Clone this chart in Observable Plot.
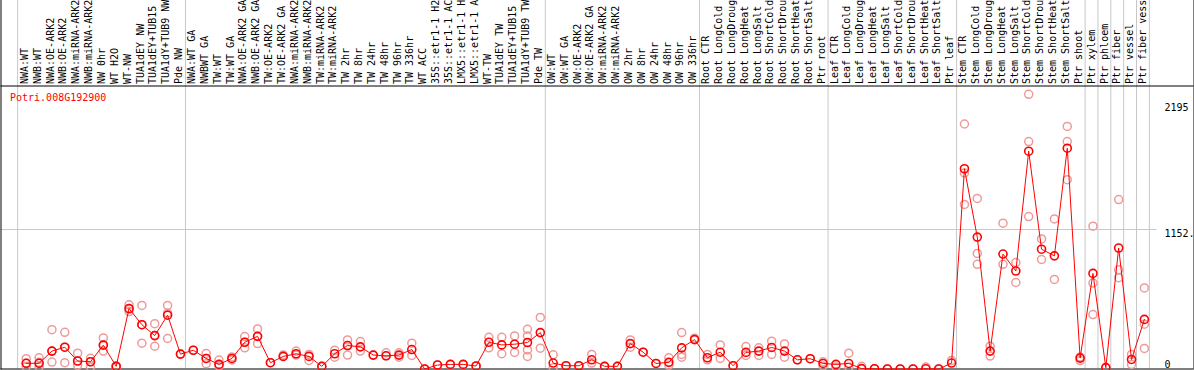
<!DOCTYPE html>
<html><head><meta charset="utf-8">
<script src="https://cdn.jsdelivr.net/npm/d3@7"></script>
<script src="https://cdn.jsdelivr.net/npm/@observablehq/plot@0.6"></script>
<style>body{margin:0;background:#fff;overflow:hidden}</style>
</head><body><div id="chart"></div>
<script>
const labels = [
"NWA:WT","NWB:WT","NWA:OE-ARK2","NWB:OE-ARK2","NWA:miRNA-ARK2","NWB:miRNA-ARK2","NW 0hr","WT H2O","WT-NW","TUA1dEY NW","TUA1dEY+TUB15","TUA1dY+TUB9 NW","Pde NW",
"NWA:WT GA","NWBWT GA","TW:WT","TW:WT GA","NWA:OE-ARK2 GA","NWB:OE-ARK2 GA","TW:OE-ARK2","TW:OE-ARK2 GA","NWA:miRNA-ARK2","NWB:miRNA-ARK2","TW:miRNA-ARK2","TW:miRNA-ARK2","TW 2hr","TW 8hr","TW 24hr","TW 48hr","TW 96hr","TW 336hr","WT ACC","35S::etr1-1 H2","35S::etr1-1 AC","LMX5::etr1-1 H","LMX5::etr1-1 A","WT-TW","TUA1dEY TW","TUA1dEY+TUB15","TUA1dY+TUB9 TW","Pde TW",
"OW:WT","OW:WT GA","OW:OE-ARK2","OW:OE-ARK2 GA","OW:miRNA-ARK2","OW:miRNA-ARK2","OW 2hr","OW 8hr","OW 24hr","OW 48hr","OW 96hr","OW 336hr",
"Root CTR","Root LongCold","Root LongDroug","Root LongHeat","Root LongSalt","Root ShortCold","Root ShortDrou","Root ShortHeat","Root ShortSalt","Ptr root",
"Leaf CTR","Leaf LongCold","Leaf LongDroug","Leaf LongHeat","Leaf LongSalt","Leaf ShortCold","Leaf ShortDrou","Leaf ShortHeat","Leaf ShortSalt","Ptr leaf",
"Stem CTR","Stem LongCold","Stem LongDroug","Stem LongHeat","Stem LongSalt","Stem ShortCold","Stem ShortDrou","Stem ShortHeat","Stem ShortSalt","Ptr shoot",
"Ptr xylem","Ptr phloem","Ptr fiber","Ptr vessel","Ptr fiber vess"
];
const means = [
47,47,148,180,66,60,197,22,500,366,276,445,123,
155,87,38,87,221,270,52,104,126,104,22,126,194,183,115,109,115,161,0,33,38,38,25,221,199,205,219,301,
49,27,27,76,22,22,210,139,46,55,175,243,
93,139,27,137,148,178,148,76,85,46,
38,46,3,2,0,0,0,2,0,49,
1655,1090,148,950,810,1800,990,935,1825,90,
790,11,1000,79,410
];
const replicates = [
[85,47,19],[93,55,19],[325,148,57],[303,180,52],[131,66,30],[88,60,16],[257,200,148],[22,18,25],[530,475,494],[525,366,213],[375,276,188],[525,462,252],[123],
[155],[128,87,44],[74,38,25],[100,75],[268,221,175],[331,270,210],[52],[115,104],[148,115],[120,71],[22],[156,98],[240,115,194],[227,148],[115],[134,109],[134,98],[213,112],[0],[33],[38],[38],[25],[262,175],[262,126],[273,137],[328,273,158,104],[426,172],
[117,11],[27],[27],[120,49],[22],[22],[240,180],[139],[46],[93,30],[301,120,98],[255],
[120,76],[199,87],[27],[186,112],[175,112],[230,120],[207,98],[76],[85],[60,25],
[16],[131,16],[22],[2],[0],[0],[0],[16],[0],[71],
[2025,1360,1620],[1410,955,865],[189,107],[1205,865],[880,715],[2270,1880,1260],[1075,905],[1240,740],[2005,1880,1565],[100,70],
[1180,710,450],[11],[1400,820,755],[120,38],[670,370,170]
];
const groupEnds = [12,40,52,62,72,82,83,84,85,86,87];
const title = "Potri.008G192900";
const yTicks = [2195, 1152.5];
const yTickLabels = ["2195", "1152."];
const yZero = [0];
const yZeroLabel = ["0"];
const yTop = 2339;

const idx = labels.map((_, i) => i);
const meanData = means.map((v, i) => ({i, v}));
const repData = replicates.flatMap((arr, i) => arr.map(v => ({i, v})));

const grid = "#c8c8c8";
const chart = Plot.plot({
  width: 1194, height: 370,
  marginTop: 0, marginBottom: 1.5, marginLeft: 0.5, marginRight: 0.5,
  style: {fontFamily: "'DejaVu Sans Mono', monospace", fontSize: "10px", background: "white", color: "black"},
  x: {type: "point", domain: idx, range: [19.3, 1150.3], axis: null},
  y: {domain: [0, yTop], range: [368.5, 85.5], axis: null},
  marks: [
    Plot.ruleY([yTicks[1]], {stroke: grid, insetRight: 37}),
    Plot.ruleX([0], {x: d => d, stroke: grid, dx: -8.6}),
    Plot.ruleX(groupEnds, {x: d => d, stroke: grid, dx: 5}),
    Plot.ruleY([yTop], {stroke: "black"}),
    Plot.ruleY([0], {stroke: "black"}),
    Plot.frame({anchor: "left", stroke: "black"}),
    Plot.frame({anchor: "right", stroke: "black"}),
    Plot.text(idx, {x: d => d, y: () => yTop, text: d => labels[d], rotate: -90, textAnchor: "start", lineAnchor: "middle", dy: -2, dx: -1.5, fill: "black"}),
    Plot.text([title], {y: () => yTop, text: d => d, frameAnchor: "left", textAnchor: "start", lineAnchor: "middle", dx: 9, dy: 12, fill: "red"}),
    Plot.text(yTicks, {y: d => d, text: (d, i) => yTickLabels[i], frameAnchor: "right", textAnchor: "start", lineAnchor: "top", dx: -29.5, dy: 0, fill: "black"}),
    Plot.text(yZero, {y: d => d, text: (d, i) => yZeroLabel[i], frameAnchor: "right", textAnchor: "start", lineAnchor: "bottom", dx: -29.5, dy: -1, fill: "black"}),
    Plot.dot(repData, {x: "i", y: "v", r: 4, stroke: "#ee9a9a", strokeWidth: 1.5, fill: "none"}),
    Plot.line(meanData, {x: "i", y: "v", stroke: "red", strokeWidth: 1}),
    Plot.dot(meanData, {x: "i", y: "v", r: 4, stroke: "red", strokeWidth: 1.6, fill: "none"})
  ]
});
document.getElementById("chart").appendChild(chart);
</script>
</body></html>
